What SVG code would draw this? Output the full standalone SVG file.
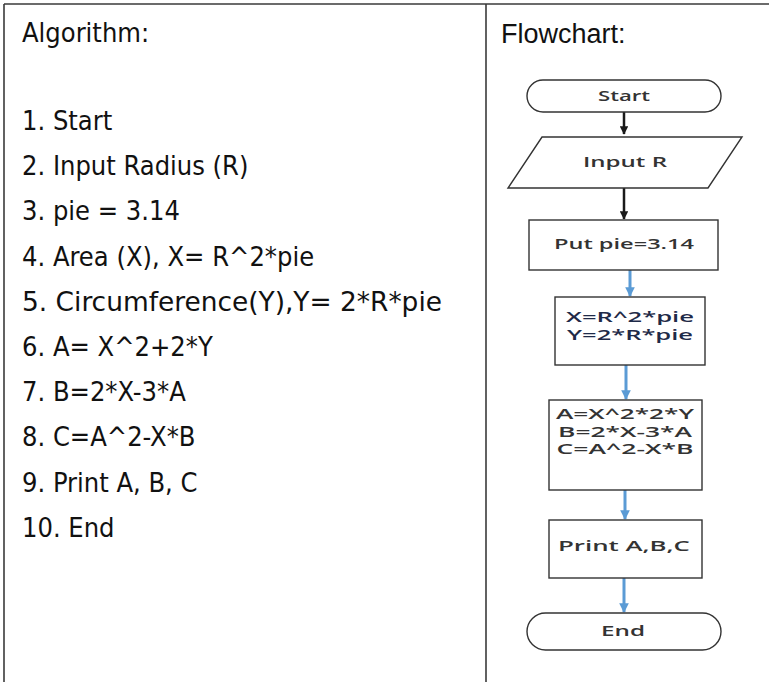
<svg xmlns="http://www.w3.org/2000/svg" width="769" height="682" viewBox="0 0 769 682">
<style>
.tbl{stroke:#3a3a3a;stroke-width:1.6;fill:none}
.alg{font-family:"DejaVu Sans Condensed","DejaVu Sans",sans-serif;font-size:27px;fill:#111}
.hdr{font-family:"Liberation Sans",Arial,sans-serif;font-size:27px;fill:#111}
.shape{fill:#fff;stroke:#333;stroke-width:1.4}
.ft{font-family:"Open Sans",Lato,sans-serif;font-weight:600;font-size:15px;fill:#333;text-anchor:middle}
.nv{fill:#1f2a48}
.blk{stroke:#1a1a1a;stroke-width:2.5;fill:none}
.blu{stroke:#5b9bd5;stroke-width:3;fill:none}
</style>
<defs>
<marker id="ab" viewBox="0 0 10 10" refX="9" refY="5" markerWidth="3.4" markerHeight="3.4" orient="auto" markerUnits="strokeWidth"><path d="M0,0 L10,5 L0,10 z" fill="#1a1a1a"/></marker>
<marker id="au" viewBox="0 0 10 10" refX="9" refY="5" markerWidth="3.2" markerHeight="3.2" orient="auto" markerUnits="strokeWidth"><path d="M0,0 L10,5 L0,10 z" fill="#5b9bd5"/></marker>
</defs>
<rect width="769" height="682" fill="#fff"/>
<g id="table">
<line class="tbl" x1="4" y1="4" x2="769" y2="4"/>
<line class="tbl" x1="4" y1="4" x2="4" y2="682"/>
<line class="tbl" x1="486" y1="4" x2="486" y2="682"/>
</g>
<g id="algorithm">
<text class="alg" x="22" y="42">Algorithm:</text>
<text class="alg" x="22" y="130">1. Start</text>
<text class="alg" x="22" y="175">2. Input Radius (R)</text>
<text class="alg" x="22" y="220">3. pie = 3.14</text>
<text class="alg" x="22" y="266">4. Area (X), X= R^2*pie</text>
<text class="alg" x="22" y="311" textLength="420" lengthAdjust="spacingAndGlyphs">5. Circumference(Y),Y= 2*R*pie</text>
<text class="alg" x="22" y="356">6. A= X^2+2*Y</text>
<text class="alg" x="22" y="401">7. B=2*X-3*A</text>
<text class="alg" x="22" y="446">8. C=A^2-X*B</text>
<text class="alg" x="22" y="492">9. Print A, B, C</text>
<text class="alg" x="22" y="537">10. End</text>
</g>
<text class="hdr" x="501" y="43">Flowchart:</text>
<g id="connectors">
<line class="blk" x1="624" y1="112" x2="624" y2="134" marker-end="url(#ab)"/>
<line class="blk" x1="624" y1="188" x2="624" y2="219" marker-end="url(#ab)"/>
<line class="blu" x1="630" y1="270" x2="630" y2="296" marker-end="url(#au)"/>
<line class="blu" x1="626" y1="365" x2="626" y2="399" marker-end="url(#au)"/>
<line class="blu" x1="625" y1="490" x2="625" y2="519" marker-end="url(#au)"/>
<line class="blu" x1="624" y1="578" x2="624" y2="612" marker-end="url(#au)"/>
</g>
<g id="start">
<rect class="shape" x="527" y="80" width="194" height="32" rx="16"/>
<text class="ft" x="624" y="101" textLength="52" lengthAdjust="spacingAndGlyphs">Start</text>
</g>
<g id="input">
<polygon class="shape" points="542,137 742,137 708,188 508,188"/>
<text class="ft" x="625" y="167" textLength="84" lengthAdjust="spacingAndGlyphs">Input R</text>
</g>
<g id="putpie">
<rect class="shape" x="529" y="220" width="189" height="50"/>
<text class="ft" x="624" y="249" textLength="140" lengthAdjust="spacingAndGlyphs">Put pie=3.14</text>
</g>
<g id="xy">
<rect class="shape" x="555" y="297" width="150" height="68"/>
<text class="ft nv" x="630" y="322" textLength="128" lengthAdjust="spacingAndGlyphs">X=R^2*pie</text>
<text class="ft nv" x="630" y="340" textLength="126" lengthAdjust="spacingAndGlyphs">Y=2*R*pie</text>
</g>
<g id="abc">
<rect class="shape" x="549" y="400" width="153" height="90"/>
<text class="ft" x="625" y="419" textLength="138" lengthAdjust="spacingAndGlyphs">A=X^2*2*Y</text>
<text class="ft" x="625" y="436.5" textLength="134" lengthAdjust="spacingAndGlyphs">B=2*X-3*A</text>
<text class="ft" x="625" y="454" textLength="137" lengthAdjust="spacingAndGlyphs">C=A^2-X*B</text>
</g>
<g id="print">
<rect class="shape" x="549" y="520" width="153" height="58"/>
<text class="ft" x="624" y="551" textLength="132" lengthAdjust="spacingAndGlyphs">Print A,B,C</text>
</g>
<g id="end">
<rect class="shape" x="527" y="613" width="194" height="37" rx="18.5"/>
<text class="ft" x="623" y="636" textLength="44" lengthAdjust="spacingAndGlyphs">End</text>
</g>
</svg>
